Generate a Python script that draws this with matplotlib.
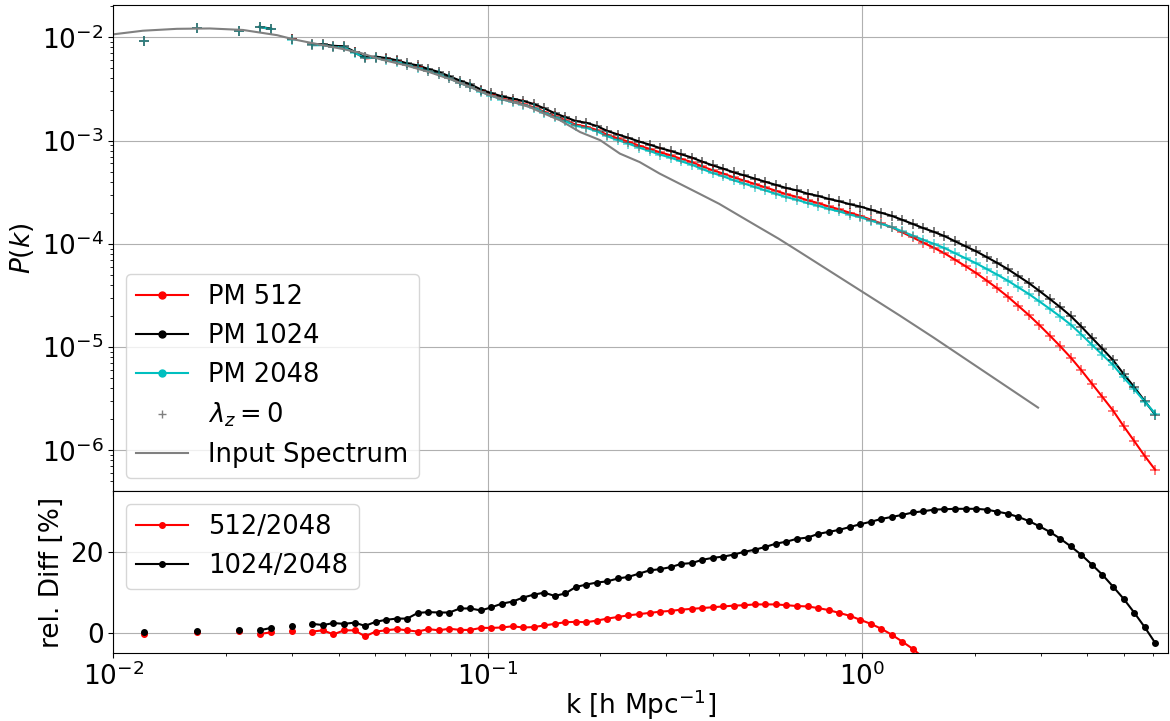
import numpy as np
import matplotlib
matplotlib.use("Agg")
import matplotlib.pyplot as plt
from matplotlib.lines import Line2D

nan = np.nan

# k bins [h/Mpc]; NaN marks empty bins at low k so the lines break there
k = [0.0121, nan, 0.0167, nan, 0.0217, nan, 0.0246, 0.0264, nan, 0.0300, nan,
     0.03404, 0.03632, 0.03875, 0.04134, 0.04411, 0.04707, 0.05022, 0.05358, 0.05717, 0.06100,
     0.06508, 0.06944, 0.07409, 0.07905, 0.08434, 0.08998, 0.09600, 0.1024, 0.1093, 0.1166,
     0.1244, 0.1327, 0.1416, 0.1511, 0.1612, 0.1720, 0.1835, 0.1958, 0.2089, 0.2229,
     0.2378, 0.2538, 0.2707, 0.2889, 0.3082, 0.3288, 0.3508, 0.3743, 0.3994, 0.4261,
     0.4547, 0.4851, 0.5176, 0.5522, 0.5892, 0.6286, 0.6707, 0.7156, 0.7635, 0.8146,
     0.8691, 0.9273, 0.9894, 1.056, 1.126, 1.202, 1.282, 1.368, 1.460, 1.557,
     1.661, 1.773, 1.891, 2.018, 2.153, 2.297, 2.451, 2.615, 2.790, 2.977,
     3.176, 3.389, 3.616, 3.858, 4.116, 4.391, 4.685, 4.999, 5.334, 5.691,
     6.071]

# PM 2048 power spectrum
p_2048 = [9.2e-3, nan, 1.23e-2, nan, 1.14e-2, nan, 1.26e-2, 1.20e-2, nan, 9.5e-3, nan,
          8.4e-3, 8.4e-3, 8.1e-3, 8.0e-3, 7.1e-3, 6.3e-3, 6.35e-3, 6.1e-3, 5.8e-3, 5.4e-3,
          5.1e-3, 4.7e-3, 4.4e-3, 4.0e-3, 3.6e-3, 3.31e-3, 2.96e-3, 2.71e-3, 2.50e-3, 2.37e-3,
          2.23e-3, 2.07e-3, 1.87e-3, 1.69e-3, 1.54e-3, 1.39e-3, 1.33e-3, 1.23e-3, 1.10e-3, 1.01e-3,
          9.35e-4, 8.55e-4, 7.93e-4, 7.31e-4, 6.84e-4, 6.30e-4, 5.85e-4, 5.3e-4, 4.85e-4, 4.5e-4,
          4.12e-4, 3.83e-4, 3.55e-4, 3.29e-4, 3.05e-4, 2.83e-4, 2.67e-4, 2.48e-4, 2.34e-4, 2.18e-4,
          2.06e-4, 1.92e-4, 1.81e-4, 1.68e-4, 1.56e-4, 1.45e-4, 1.32e-4, 1.20e-4, 1.09e-4, 1.0e-4,
          9.1e-5, 8.1e-5, 7.25e-5, 6.48e-5, 5.71e-5, 5.03e-5, 4.40e-5, 3.79e-5, 3.27e-5, 2.77e-5,
          2.34e-5, 1.97e-5, 1.64e-5, 1.32e-5, 1.05e-5, 8.4e-6, 6.7e-6, 5.07e-6, 3.91e-6, 2.96e-6,
          2.27e-6]

# relative difference to PM 2048 in percent
diff_512 = [-0.2, nan, 0.2, nan, 0.5, nan, -0.3, 0.1, nan, 0.5, nan,
            0.3, 0.6, -0.4, 0.6, 0.6, -0.9, 0.3, 0.6, 0.9, 0.6,
            0.3, 0.9, 0.6, 1.0, 0.7, 0.7, 1.2, 1.2, 1.3, 1.6,
            1.3, 1.4, 1.8, 2.2, 2.6, 2.7, 2.6, 3.0, 3.5, 3.9,
            4.3, 4.6, 4.9, 5.2, 5.4, 5.7, 5.9, 6.1, 6.3, 6.5,
            6.7, 6.8, 7.0, 7.0, 7.0, 6.8, 6.6, 6.5, 6.1, 5.6,
            4.9, 4.2, 3.2, 2.2, 1.0, -0.5, -2.2, -4.0, -6.2, -8.5,
            -11.0, -13.5, -16.3, -19.5, -22.8, -26.2, -30.0, -33.8, -37.5, -41.0,
            -44.8, -48.5, -52.0, -55.0, -58.0, -61.0, -63.8, -66.2, -68.5, -70.2,
            -71.5]
diff_1024 = [0.1, nan, 0.5, nan, 0.8, nan, 0.6, 1.2, nan, 1.6, nan,
             2.2, 1.9, 2.4, 2.2, 2.5, 1.7, 2.7, 3.2, 3.5, 3.5,
             4.9, 5.1, 5.0, 5.0, 6.0, 6.0, 5.5, 6.3, 7.2, 7.7,
             8.7, 9.4, 9.9, 9.1, 9.7, 11.3, 11.9, 12.4, 12.7, 13.4,
             13.8, 14.6, 15.4, 15.7, 16.2, 17.0, 17.2, 18.0, 18.5, 18.8,
             19.3, 20.0, 20.5, 21.2, 22.0, 22.5, 23.2, 23.5, 24.4, 24.9,
             25.4, 26.1, 26.8, 27.4, 28.1, 28.6, 29.1, 29.7, 30.0, 30.4,
             30.5, 30.6, 30.6, 30.6, 30.4, 29.9, 29.4, 28.6, 27.6, 26.3,
             24.9, 23.2, 21.3, 19.2, 16.8, 14.3, 11.4, 8.4, 5.0, 1.4,
             -2.5]

# linear input spectrum
k_in = [0.0100, 0.0120, 0.0148, 0.0181, 0.0222, 0.0274, 0.0302, 0.0335, 0.0411, 0.0456,
        0.052, 0.060, 0.070, 0.080, 0.090, 0.100, 0.110, 0.120, 0.130, 0.140,
        0.150, 0.1563, 0.1766, 0.1998, 0.2256, 0.2549, 0.2881, 0.3254, 0.3677, 0.4155,
        0.4694, 0.5303, 0.5992, 0.6770, 1.264, 1.551, 2.954]
p_in = [1.07e-2, 1.16e-2, 1.21e-2, 1.22e-2, 1.18e-2, 1.05e-2, 9.6e-3, 8.9e-3, 7.7e-3, 7.1e-3,
        6.1e-3, 5.4e-3, 4.6e-3, 3.9e-3, 3.3e-3, 2.8e-3, 2.5e-3, 2.3e-3, 2.1e-3, 1.86e-3,
        1.67e-3, 1.57e-3, 1.21e-3, 1.01e-3, 7.48e-4, 6.19e-4, 4.79e-4, 3.83e-4, 3.06e-4, 2.44e-4,
        1.88e-4, 1.45e-4, 1.12e-4, 8.48e-5, 2.01e-5, 1.24e-5, 2.59e-6]

k = np.array(k)
p_2048 = np.array(p_2048)
diff_512 = np.array(diff_512)
diff_1024 = np.array(diff_1024)
p_512 = p_2048 * (1 + diff_512 / 100)
p_1024 = p_2048 * (1 + diff_1024 / 100)

plt.rcParams.update({"font.size": 19, "legend.fontsize": 18.5, "xtick.major.pad": 3})

fig, (ax, axd) = plt.subplots(2, 1, sharex=True, figsize=(11.7, 7.21), dpi=100,
                              gridspec_kw={"height_ratios": [3, 1], "hspace": 0})
fig.subplots_adjust(left=0.0968, right=0.9983, top=0.9931, bottom=0.0943)

runs = [(p_512, "r", "PM 512"), (p_1024, "k", "PM 1024"), (p_2048, "c", "PM 2048")]
for p, col, _ in runs:
    ax.plot(k, p, color=col, lw=1.5)
for p, col, _ in runs:
    ax.plot(k, p, "+", color=col, ms=7, mew=1.2, alpha=0.6)
ax.plot(k_in, p_in, color="gray", lw=1.5)

ax.set_xscale("log")
ax.set_yscale("log")
ax.set_xlim(0.01, 6.57)
ax.set_ylim(4.03e-7, 2.06e-2)
ax.set_ylabel("$P(k)$")
ax.grid(True)

handles = [Line2D([], [], color=col, marker="o", ms=5) for _, col, _ in runs]
labels = [lab for _, _, lab in runs]
handles.append(Line2D([], [], color="gray", marker="+", ls="none", ms=6))
labels.append(r"$\lambda_z = 0$")
handles.append(Line2D([], [], color="gray", lw=1.5))
labels.append("Input Spectrum")
ax.legend(handles, labels, loc="lower left")

axd.plot(k, diff_512, ".-", color="r", ms=8, label="512/2048")
axd.plot(k, diff_1024, ".-", color="k", ms=8, label="1024/2048")
axd.set_ylim(-5, 35)
axd.set_yticks([0, 20])
axd.set_xlabel("k [h Mpc$^{-1}$]", labelpad=-2)
axd.set_ylabel("rel. Diff [%]")
axd.grid(True)
axd.legend(loc="upper left")

fig.savefig("out.png", dpi=100)
